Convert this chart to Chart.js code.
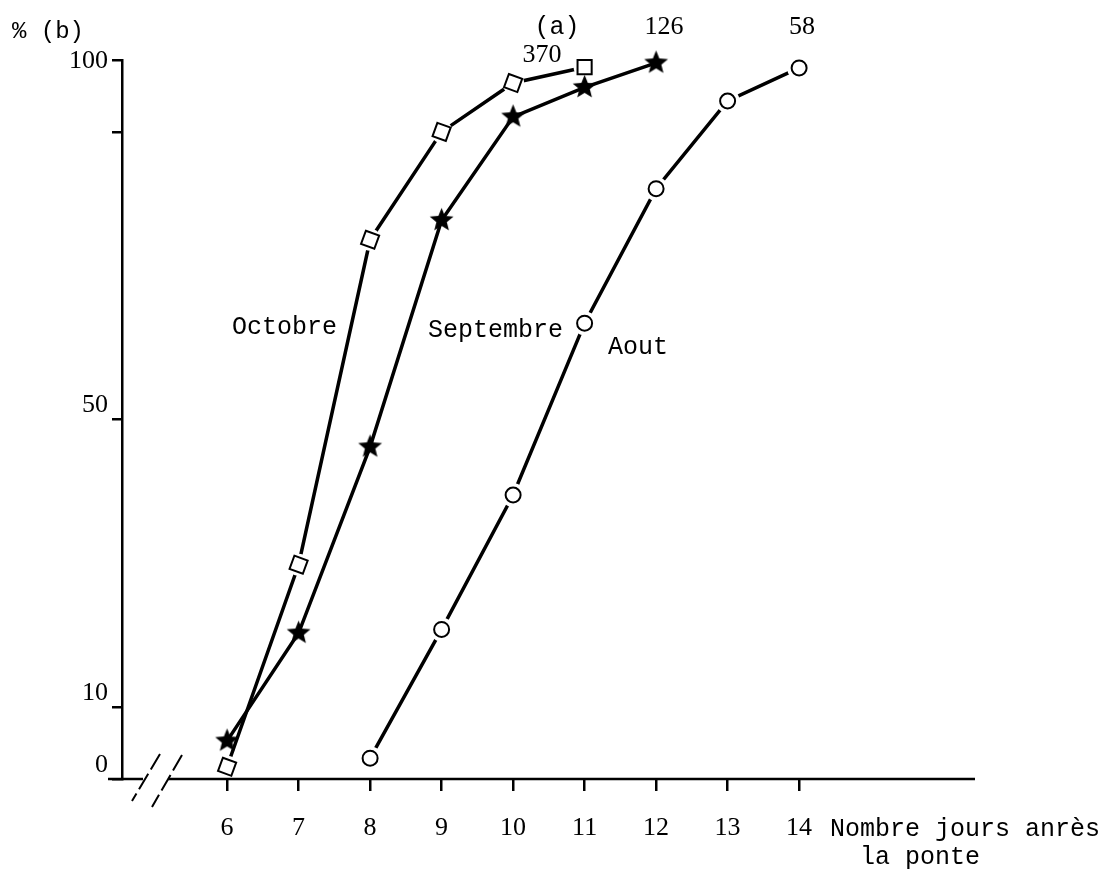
<!DOCTYPE html>
<html>
<head>
<meta charset="utf-8">
<script src="https://cdn.jsdelivr.net/npm/chart.js@4.4.1/dist/chart.umd.min.js"></script>
<style>
  html, body { margin: 0; padding: 0; background: #fff; }
  canvas { display: block; }
</style>
</head>
<body>
<canvas id="chart" width="1104" height="881"></canvas>
<script>
// Days after laying (x) and cumulative percentage (y) for each month
const dayTicks = [6, 7, 8, 9, 10, 11, 12, 13, 14];
const pctTicks = [0, 10, 50, 90, 100];
const pctTickLabels = ['0', '10', '50', '', '100'];

const octobreDays = [6, 7, 8, 9, 10, 11];
const octobrePct  = [1.7, 29.8, 75.0, 90.0, 96.8, 99.0];

const septembreDays = [6, 7, 8, 9, 10, 11, 12];
const septembrePct  = [5.3, 20.3, 46.2, 77.7, 92.1, 96.2, 99.6];

const aoutDays = [8, 9, 10, 11, 12, 13, 14];
const aoutPct  = [2.9, 20.8, 39.5, 63.4, 82.1, 94.3, 98.9];

const seriesNames = ['Octobre', 'Septembre', 'Aout'];
const sampleSizes = ['370', '126', '58'];

const toPoints = (xs, ys) => xs.map((x, i) => ({ x: x, y: ys[i] }));

// Filled five-pointed star used as the Septembre marker
function starCanvas(outer, inner) {
  const s = Math.ceil(outer * 2 + 2);
  const c = document.createElement('canvas');
  c.width = c.height = s;
  const g = c.getContext('2d');
  g.translate(s / 2, s / 2);
  g.beginPath();
  for (let i = 0; i < 10; i++) {
    const r = i % 2 ? inner : outer;
    const a = -Math.PI / 2 + i * Math.PI / 5;
    g.lineTo(r * Math.cos(a), r * Math.sin(a));
  }
  g.closePath();
  g.fillStyle = '#000';
  g.fill();
  return c;
}
const star = starCanvas(12.5, 5.5);

const INK = '#000';
const MONO = '"Liberation Mono", "DejaVu Sans Mono", monospace';
const SERIF = '"Liberation Serif", "DejaVu Serif", serif';

function lineSet(data) {
  return { data, showLine: true, borderColor: INK, borderWidth: 3.5, pointRadius: 0,
           tension: 0, clip: false, order: 3 };
}
function haloSet(data, r) {
  return { data, showLine: false, pointRadius: r, pointBackgroundColor: '#fff',
           pointBorderWidth: 0, clip: false, order: 2 };
}
function markerSet(data, opts) {
  return Object.assign({ data, showLine: false, clip: false, order: 1,
           pointBorderColor: INK, pointBackgroundColor: '#fff' }, opts);
}

const oct = toPoints(octobreDays, octobrePct);
const sep = toPoints(septembreDays, septembrePct);
const aou = toPoints(aoutDays, aoutPct);

// Axis line with a scale break, drawn along the x scale
const brokenAxis = {
  id: 'brokenAxis',
  afterDraw(chart) {
    const { ctx, chartArea: a } = chart;
    const y = a.bottom;
    ctx.save();
    ctx.strokeStyle = INK;
    ctx.lineWidth = 2.5;
    ctx.beginPath();
    ctx.moveTo(a.left - 14, y); ctx.lineTo(a.left + 21, y);
    ctx.moveTo(a.left + 46, y); ctx.lineTo(a.right, y);
    ctx.stroke();
    ctx.lineWidth = 2;
    ctx.setLineDash([18, 5]);
    ctx.beginPath();
    ctx.moveTo(a.left + 38, y - 25); ctx.lineTo(a.left + 10, y + 22);
    ctx.moveTo(a.left + 60, y - 24); ctx.lineTo(a.left + 30, y + 28);
    ctx.stroke();
    ctx.restore();
  }
};

// Curve names, sample sizes and axis titles
const annotations = {
  id: 'annotations',
  afterDraw(chart) {
    const { ctx } = chart;
    ctx.save();
    ctx.fillStyle = INK;
    ctx.textBaseline = 'middle';
    ctx.textAlign = 'left';
    ctx.font = '24px ' + MONO;
    ctx.fillText('% (b)', 12, 32);
    ctx.font = '25px ' + MONO;
    ctx.fillText(seriesNames[0], 232, 327);
    ctx.fillText(seriesNames[1], 428, 330);
    ctx.fillText(seriesNames[2], 608, 347);
    ctx.fillText('Nombre jours anrès', 830, 829);
    ctx.fillText('la ponte', 860, 857);
    ctx.textAlign = 'center';
    ctx.fillText('(a)', 557, 27);
    ctx.font = '26px ' + SERIF;
    ctx.fillText(sampleSizes[0], 542, 55);
    ctx.fillText(sampleSizes[1], 664, 27);
    ctx.fillText(sampleSizes[2], 802, 27);
    ctx.restore();
  }
};

new Chart(document.getElementById('chart'), {
  type: 'scatter',
  data: {
    datasets: [
      lineSet(oct), lineSet(sep), lineSet(aou),
      haloSet(oct, 11), haloSet(aou, 12),
      markerSet(oct, { pointStyle: 'rect', pointRadius: 10, pointBorderWidth: 2,
                       pointRotation: ctx => (ctx.dataIndex === octobreDays.length - 1 ? 0 : 20) }),
      markerSet(sep, { pointStyle: star, pointRadius: 12 }),
      markerSet(aou, { pointStyle: 'circle', pointRadius: 7.5, pointBorderWidth: 2 })
    ]
  },
  options: {
    responsive: false,
    animation: false,
    events: [],
    layout: { padding: { left: 0, top: 60, right: 129, bottom: 0 } },
    plugins: { legend: { display: false }, tooltip: { enabled: false } },
    scales: {
      x: {
        type: 'linear',
        min: 4.53,
        max: 16.46,
        afterBuildTicks: s => { s.ticks = dayTicks.map(v => ({ value: v })); },
        afterFit: s => { s.height = 102; },
        border: { display: false },
        grid: { drawOnChartArea: false, drawTicks: true, tickLength: 12, color: INK, lineWidth: 2.5 },
        ticks: { color: INK, font: { family: SERIF, size: 26 }, padding: 22,
                 maxRotation: 0, autoSkip: false, callback: v => String(v) }
      },
      y: {
        type: 'linear',
        min: 0,
        max: 100,
        afterBuildTicks: s => { s.ticks = pctTicks.map(v => ({ value: v })); },
        afterFit: s => { s.width = 122; },
        border: { display: true, color: INK, width: 2.5 },
        grid: { drawOnChartArea: false, drawTicks: true, tickLength: 10, color: INK, lineWidth: 2.5 },
        ticks: {
          color: INK, font: { family: SERIF, size: 26 }, padding: 4, labelOffset: -14,
          autoSkip: false,
          callback: v => {
            const label = pctTickLabels[pctTicks.indexOf(v)];
            return v === 100 ? ['', label] : label;
          }
        }
      }
    }
  },
  plugins: [brokenAxis, annotations]
});
</script>
</body>
</html>
